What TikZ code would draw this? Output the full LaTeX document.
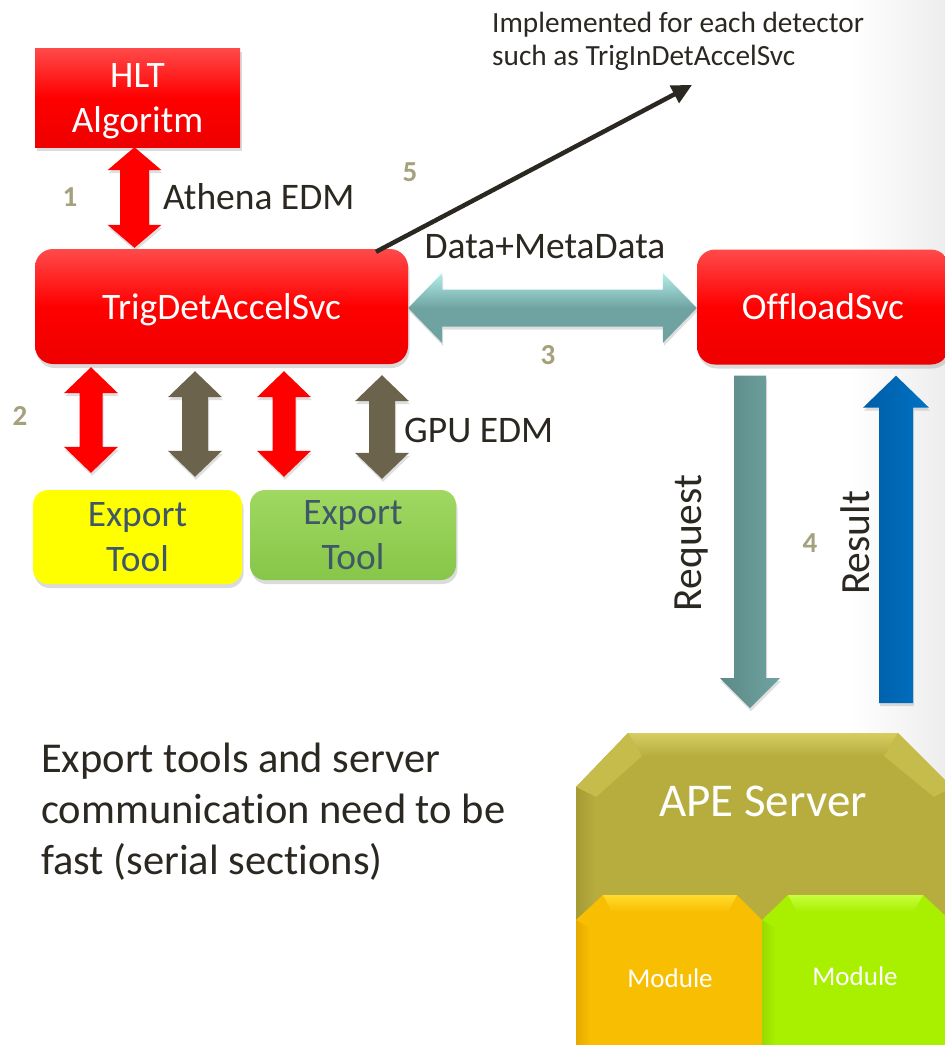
\documentclass[tikz,border=0pt]{standalone}
\usepackage{fontspec}
\setmainfont{Carlito}[Ligatures=NoCommon]
\usetikzlibrary{calc,shadows,arrows.meta}
\definecolor{txt}{HTML}{2B2822}
\definecolor{numc}{HTML}{A6A17D}
\definecolor{redL}{HTML}{FF4A4A}
\definecolor{redD}{HTML}{EE0000}
\definecolor{tealA}{HTML}{6FA3A1}
\definecolor{tealL}{HTML}{B2EEEA}
\definecolor{tealD}{HTML}{5C8A88}
\definecolor{brn}{HTML}{6C634D}
\definecolor{bluA}{HTML}{0072C4}
\definecolor{bluD}{HTML}{005DA6}
\definecolor{yel}{HTML}{FFFF00}
\definecolor{grnL}{HTML}{A0D862}
\definecolor{grnD}{HTML}{86C648}
\definecolor{exptxt}{HTML}{3F5868}
\definecolor{apeC}{HTML}{B7AD3F}
\definecolor{apeL}{HTML}{D6CD62}
\definecolor{apeM}{HTML}{C6BC4C}
\definecolor{apeD}{HTML}{A59B33}
\definecolor{modO}{HTML}{F8BE02}
\definecolor{modOL}{HTML}{FFDB2C}
\definecolor{modOD}{HTML}{E6A900}
\definecolor{modG}{HTML}{A8EF00}
\definecolor{modGL}{HTML}{C6FF3C}
\definecolor{modGD}{HTML}{98DA00}
\newcommand\vdblarrow[6]{\path[#1] let \p1=(#2), \p2=(#3) in
  (\x1,\y1) -- (\x1+#5,\y1-#6) -- (\x1+#4,\y1-#6) -- (\x1+#4,\y2+#6) -- (\x1+#5,\y2+#6)
  -- (\x1,\y2) -- (\x1-#5,\y2+#6) -- (\x1-#4,\y2+#6) -- (\x1-#4,\y1-#6) -- (\x1-#5,\y1-#6) -- cycle;}
\newcommand\hdblarrow[6]{\path[#1] let \p1=(#2), \p2=(#3) in
  (\x1,\y1) -- (\x1+#6,\y1+#5) -- (\x1+#6,\y1+#4) -- (\x2-#6,\y1+#4) -- (\x2-#6,\y1+#5)
  -- (\x2,\y1) -- (\x2-#6,\y1-#5) -- (\x2-#6,\y1-#4) -- (\x1+#6,\y1-#4) -- (\x1+#6,\y1-#5) -- cycle;}
\newcommand\vdownarrow[6]{\path[#1] let \p1=(#2), \p2=(#3) in
  (\x1-#4,\y1) -- (\x1+#4,\y1) -- (\x1+#4,\y2+#6) -- (\x1+#5,\y2+#6) -- (\x1,\y2)
  -- (\x1-#5,\y2+#6) -- (\x1-#4,\y2+#6) -- cycle;}
\newcommand\vuparrow[6]{\path[#1] let \p1=(#2), \p2=(#3) in
  (\x1-#4,\y1) -- (\x1+#4,\y1) -- (\x1+#4,\y2-#6) -- (\x1+#5,\y2-#6) -- (\x1,\y2)
  -- (\x1-#5,\y2-#6) -- (\x1-#4,\y2-#6) -- cycle;}
\tikzset{
  box/.style={inner sep=0pt, align=center, font=\fontsize{37.4}{45}\selectfont, text depth=0pt,
    drop shadow={opacity=0.28, shadow xshift=1.5pt, shadow yshift=-4pt}},
  redbox/.style={box, text=white, top color=redL, bottom color=redD, middle color=red},
  expbox/.style={box, text=exptxt, rounded corners=15pt},
  lbl/.style={text=txt, inner sep=0pt, font=\fontsize{37.5}{45}\selectfont},
  numlbl/.style={text=numc, inner sep=0pt, font=\fontsize{29}{33}\selectfont\bfseries},
  modlbl/.style={text=white, inner sep=0pt, font=\fontsize{27}{32}\selectfont},
  ashadow/.style={drop shadow={opacity=0.25, shadow xshift=1pt, shadow yshift=-3pt}},
}
\begin{document}
\begin{tikzpicture}[x=1pt,y=-1pt]
\useasboundingbox (0,0) rectangle (945,1045);
\fill[white] (0,0) rectangle (945,1045);
\shade[left color=white, right color=black!7] (850,0) rectangle (945,1045);

% boxes
\node[redbox, minimum width=205pt, minimum height=99pt] (hlt) at (137.5,97.5) {HLT\\Algoritm};
\node[redbox, rounded corners=18pt, minimum width=373pt, minimum height=115pt] (trig) at (221.5,306.5) {TrigDetAccelSvc};
\node[redbox, rounded corners=18pt, minimum width=252pt, minimum height=115pt] (off) at (823,307) {OffloadSvc};
\node[expbox, fill=yel, minimum width=209pt, minimum height=94pt] (exp1) at (137.5,537) {Export\\Tool};
\node[expbox, top color=grnL, bottom color=grnD, minimum width=206pt, minimum height=90pt] (exp2) at (353,535) {Export\\Tool};

% APE server
\coordinate (apetop) at (763,733);
\fill[apeC] (576,787) -- (628,733) -- (898,733) -- (952,787) -- (952,1050) -- (576,1050) -- cycle;
\shade[top color=apeL, bottom color=apeC] (628,733) -- (898,733) -- (884,756) -- (642,756) -- cycle;
\fill[apeM] (576,787) -- (628,733) -- (642,756) -- (596,797) -- cycle;
\fill[apeM] (898,733) -- (952,787) -- (934,797) -- (884,756) -- cycle;
\shade[left color=apeD, right color=apeC] (576,787) -- (596,797) -- (596,1050) -- (576,1050) -- cycle;
\node[text=white, inner sep=0pt, font=\fontsize{47}{56}\selectfont] (apelbl) at (763,801) {APE Server};

% modules
\fill[modO] (576,920) -- (603,895) -- (737,895) -- (762,920) -- (762,1050) -- (576,1050) -- cycle;
\shade[top color=modOL, bottom color=modO] (603,895) -- (737,895) -- (728,912) -- (612,912) -- cycle;
\shade[left color=modOD, right color=modO] (576,920) -- (590,928) -- (590,1050) -- (576,1050) -- cycle;
\fill[modG] (762,920) -- (788,895) -- (923,895) -- (950,920) -- (950,1050) -- (762,1050) -- cycle;
\shade[top color=modGL, bottom color=modG] (788,895) -- (923,895) -- (914,912) -- (797,912) -- cycle;
\shade[left color=modGD, right color=modG] (762,920) -- (775,928) -- (775,1050) -- (762,1050) -- cycle;
\node[modlbl] (mod1) at (670,978) {Module};
\node[modlbl] (mod2) at (855,976) {Module};

% arrow 1
\vdblarrow{fill=red, ashadow}{$(hlt.south)+(-3,0)$}{$(hlt.south |- trig.north)+(-3,-1)$}{14.5pt}{27pt}{23pt}
% arrows 2
\vdblarrow{fill=red, ashadow}{$(trig.south)+(-130.5,3)$}{$(exp1.north)+(-46.5,-17)$}{11.5pt}{27pt}{26pt}
\vdblarrow{fill=brn, ashadow}{$(trig.south)+(-26.5,7)$}{$(exp1.north)+(57.5,-13)$}{13pt}{27pt}{26pt}
\vdblarrow{fill=red, ashadow}{$(trig.south)+(62.5,7)$}{$(exp2.north)+(-69,-13)$}{11.5pt}{27pt}{26pt}
\vdblarrow{fill=brn, ashadow}{$(trig.south)+(160.5,11)$}{$(exp2.north)+(29,-11)$}{13pt}{27pt}{26pt}
% arrow 3
\hdblarrow{top color=tealL, bottom color=tealA, middle color=tealA, ashadow}{$(trig.east)+(0,1.5)$}{off.west}{18.5pt}{35pt}{34pt}
% arrows 4
\vdownarrow{left color=tealD, right color=tealA, ashadow}{$(off.south)+(-73,11)$}{$(apetop)+(-13,-25)$}{16pt}{30pt}{30pt}
\vuparrow{left color=bluD, right color=bluA, ashadow}{$(apetop)+(133,-30)$}{$(off.south)+(73,11)$}{17pt}{33pt}{32pt}

% arrow 5
\coordinate (impltip) at (692,85);
\draw[txt, line width=4.5pt, -{Triangle[length=20pt,width=19pt]}] ($(trig.north)+(154.5,3)$) -- (impltip);

% labels
\node[lbl, anchor=west] (athena) at (163,197) {Athena EDM};
\node[lbl, anchor=west] (gpu) at (404,430) {GPU EDM};
\node[lbl] (dmd) at (545,247) {Data+MetaData};
\node[lbl, rotate=90, font=\fontsize{41.5}{48}\selectfont] (req) at (692,543) {Request};
\node[lbl, rotate=90, font=\fontsize{41.5}{48}\selectfont] (res) at (855,543) {Result};
\node[lbl, anchor=base west, font=\fontsize{29.3}{34}\selectfont] (impl1) at (492,32) {Implemented for each detector};
\node[lbl, anchor=base west, font=\fontsize{29.3}{34}\selectfont] (impl2) at (492,65) {such as TrigInDetAccelSvc};
\node[numlbl] (n1) at (70,197) {1};
\node[numlbl] (n2) at (20,416) {2};
\node[numlbl] (n3) at (548,355) {3};
\node[numlbl] (n4) at (810,543) {4};
\node[numlbl] (n5) at (410,172) {5};
\node[lbl, anchor=west, align=left, font=\fontsize{42.5}{51}\selectfont] (note) at (41,812) {Export tools and server\\communication need to be\\fast (serial sections)};
\end{tikzpicture}
\end{document}
